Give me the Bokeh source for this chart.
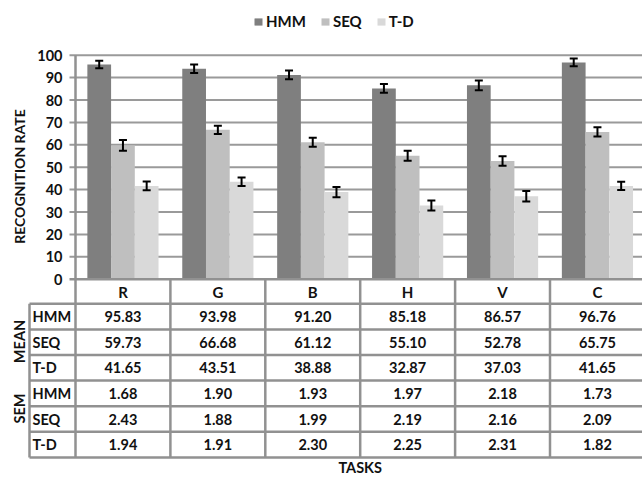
import math
from bokeh.plotting import figure
from bokeh.models import Range1d, ColumnDataSource, Legend, LegendItem, Whisker, TeeHead
from bokeh.core.properties import value
from bokeh.embed import file_html
from bokeh.resources import INLINE

# ---------------- data ----------------
tasks = ["R", "G", "B", "H", "V", "C"]
series = ["HMM", "SEQ", "T-D"]
groups = ["MEAN", "SEM"]
hmm_mean = [95.83, 93.98, 91.20, 85.18, 86.57, 96.76]
seq_mean = [59.73, 66.68, 61.12, 55.10, 52.78, 65.75]
td_mean = [41.65, 43.51, 38.88, 32.87, 37.03, 41.65]
hmm_sem = [1.68, 1.90, 1.93, 1.97, 2.18, 1.73]
seq_sem = [2.43, 1.88, 1.99, 2.19, 2.16, 2.09]
td_sem = [1.94, 1.91, 2.30, 2.25, 2.31, 1.82]
y_ticks = [0, 10, 20, 30, 40, 50, 60, 70, 80, 90, 100]
y_title = "RECOGNITION RATE"
x_title = "TASKS"

means = [hmm_mean, seq_mean, td_mean]
sems = [hmm_sem, seq_sem, td_sem]

# ---------------- style / layout ----------------
colors = ["#7f7f7f", "#bfbfbf", "#d9d9d9"]
GRID = "#9a9a9a"
TLINE = "#919191"
TXT = "#111111"
FONT = value("Lato")

W, H = 642, 477
OFF = 0
X0, CW = 75.0, 94.9      # picture px of first category start, category width px
Y0, SY = 278.7, 2.24     # picture px of value 0, px per unit


def ux(px):
    return (px - X0) / CW


def uy(py):
    return (Y0 - py) / SY


p = figure(width=W, height=H, output_backend="svg", toolbar_location=None,
           x_range=Range1d(ux(OFF), ux(OFF + W)), y_range=Range1d(uy(OFF + H), uy(OFF)),
           x_axis_location=None, y_axis_location=None, min_border=0,
           outline_line_color=None, background_fill_color="white")
p.xgrid.visible = False
p.ygrid.visible = False

x_right = ux(OFF + W) + 0.2
n = len(tasks)

# gridlines (with tick marks)
grid_y = [t for t in y_ticks if t > 0]
p.segment(x0=[ux(69)] * len(grid_y), y0=grid_y, x1=[x_right] * len(grid_y), y1=grid_y,
          line_color=GRID, line_width=2)

# table geometry
row_top = 303.3
row_h = 25.6
n_rows = len(groups) * len(series)
edges = [row_top + i * row_h for i in range(n_rows + 1)]
bottom = edges[-1]

# bars
items = []
for k, (name, vals, errs, col) in enumerate(zip(series, means, sems, colors)):
    xs = [i + 0.5 + (k - 1) * 0.25 for i in range(n)]
    src = ColumnDataSource(dict(x=xs, top=vals,
                                upper=[v + e for v, e in zip(vals, errs)],
                                lower=[v - e for v, e in zip(vals, errs)]))
    r = p.vbar(x="x", top="top", bottom=0, width=0.25, source=src,
               fill_color=col, line_color=None)
    items.append(LegendItem(label=name, renderers=[r]))
    w = Whisker(source=src, base="x", upper="upper", lower="lower", dimension="height",
                line_color="black", line_width=2, level="overlay",
                upper_head=TeeHead(size=8, line_width=2, line_color="black"),
                lower_head=TeeHead(size=8, line_width=2, line_color="black"))
    p.add_layout(w)

# zero line / x axis
p.segment(x0=[ux(69)], y0=[0], x1=[x_right], y1=[0], line_color=TLINE, line_width=2.5)
# y axis line continuing as table border
p.segment(x0=[0], y0=[100], x1=[0], y1=[uy(bottom)], line_color=TLINE, line_width=2.5)
# category separators in table
p.segment(x0=list(range(1, n + 1)), y0=[0] * n, x1=list(range(1, n + 1)), y1=[uy(bottom)] * n,
          line_color=TLINE, line_width=2.5)
# row lines
p.segment(x0=[ux(29)] * len(edges), y0=[uy(e) for e in edges],
          x1=[x_right] * len(edges), y1=[uy(e) for e in edges],
          line_color=TLINE, line_width=2.5)
# left border of row label column
p.segment(x0=[ux(29)], y0=[uy(row_top)], x1=[ux(29)], y1=[uy(bottom)],
          line_color=TLINE, line_width=2.5)

common = dict(text_font=FONT, text_font_style="bold", text_color=TXT)

# y tick labels
p.text(x=[ux(62)] * len(y_ticks), y=y_ticks, text=[str(t) for t in y_ticks],
       text_align="right", text_baseline="middle", text_font_size="14.5px", **common)
# y title
p.text(x=[ux(19)], y=[uy(176)], text=[y_title], angle=math.pi / 2,
       text_align="center", text_baseline="middle", text_font_size="14px", **common)

# header row
p.text(x=[i + 0.5 for i in range(n)], y=[uy((Y0 + row_top) / 2)] * n, text=tasks,
       text_align="center", text_baseline="middle", text_font_size="15px", **common)

# table values
rows = means + sems
tx, ty, tt = [], [], []
for r_i, vals in enumerate(rows):
    yc = uy((edges[r_i] + edges[r_i + 1]) / 2)
    for i, v in enumerate(vals):
        tx.append(i + 0.5)
        ty.append(yc)
        tt.append("%.2f" % v)
p.text(x=tx, y=ty, text=tt, text_align="center", text_baseline="middle",
       text_font_size="14.5px", **common)

# row labels
lab = series * len(groups)
p.text(x=[ux(32)] * len(lab),
       y=[uy((edges[i] + edges[i + 1]) / 2) for i in range(len(lab))], text=lab,
       text_align="left", text_baseline="middle", text_font_size="14.5px", **common)

# group labels
p.text(x=[ux(19)] * len(groups), y=[uy(341), uy(408)], text=groups, angle=math.pi / 2,
       text_align="center", text_baseline="middle", text_font_size="14.5px", **common)

# x title
p.text(x=[n / 2], y=[uy(466.5)], text=[x_title], text_align="center", text_baseline="middle",
       text_font_size="14.5px", **common)

legend = Legend(items=items, orientation="horizontal", location=(253 - OFF, H - 30 + OFF),
                glyph_width=10, glyph_height=9, label_standoff=3, spacing=14,
                padding=0, margin=0, border_line_color=None, background_fill_alpha=0,
                label_text_font="Lato", label_text_font_style="bold",
                label_text_font_size="15px", label_text_color=TXT, label_height=10)
p.add_layout(legend)

open("out.html", "w").write(file_html(p, INLINE))
